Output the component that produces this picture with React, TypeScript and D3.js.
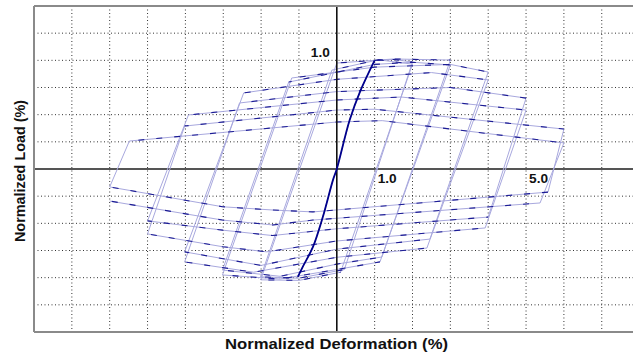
import React from 'react';
import * as d3 from 'd3';

type Pt = [number, number];

// elastic backbone (amplitude 1 cycles, drawn bold)
const backbone: Pt[] = [
  [-1.03, -3.97], [-0.9, -3.6], [-0.63, -2.87], [-0.37, -1.77], [-0.1, -0.4],
  [0, 0], [0.34, 1.8], [0.63, 2.9], [1.0, 4.0],
];

// upper (loading) branches, two cycles per amplitude
const amp2Upper: Pt[][] = [
  [[1.0, 4.0], [1.5, 4.03], [2.0, 3.94]],
  [[-0.13, 3.64], [1.1, 4.02], [2.0, 3.86]],
];
const amp3Upper: Pt[][] = [
  [[0.0, 3.9], [1.5, 4.05], [3.0, 4.01]],
  [[-1.27, 3.2], [1.0, 3.85], [2.0, 3.93], [3.0, 3.83]],
];
const amp4Upper: Pt[][] = [
  [[-1.19, 3.35], [1.0, 3.75], [3.0, 3.85], [4.0, 3.57]],
  [[-2.46, 2.8], [0, 3.3], [2.5, 3.55], [4.0, 3.28]],
];
const amp5Upper: Pt[][] = [
  [[-2.57, 2.43], [0, 2.85], [3.0, 3.0], [5.0, 2.61]],
  [[-3.92, 1.99], [0, 2.54], [1.7, 2.65], [5.0, 2.17]],
];
const amp6Upper: Pt[][] = [
  [[-4.02, 1.58], [0, 2.17], [1.0, 2.2], [6.0, 1.47]],
  [[-5.48, 1.03], [0, 1.73], [1.2, 1.78], [6.0, 0.96]],
];

// lower (reverse loading) branches
const amp2Lower: Pt[][] = [
  [[0.2, -3.7], [-1.0, -4.02], [-2.01, -3.97]],
  [[0.1, -3.8], [-1.0, -4.1], [-2.01, -4.08]],
];
const amp3Lower: Pt[][] = [
  [[1.19, -3.24], [0, -3.5], [-1.5, -3.95], [-3.02, -3.72]],
  [[1.14, -3.42], [0, -3.7], [-1.5, -4.05], [-3.02, -3.9]],
];
const amp4Lower: Pt[][] = [
  [[2.46, -2.58], [0, -2.95], [-2.0, -3.55], [-4.02, -3.05]],
  [[2.38, -2.91], [0, -3.25], [-2.2, -3.8], [-4.02, -3.42]],
];
const amp5Lower: Pt[][] = [
  [[4.0, -1.77], [0, -2.2], [-1.7, -2.45], [-3.02, -2.25], [-5.0, -1.91]],
  [[3.92, -2.17], [0, -2.65], [-1.85, -3.05], [-3.02, -2.86], [-5.0, -2.39]],
];
const amp6Lower: Pt[][] = [
  [[5.58, -0.85], [-0.63, -1.58], [-1.69, -1.51], [-3.02, -1.39], [-6.0, -0.66]],
  [[5.37, -1.25], [-0.63, -1.88], [-1.69, -2.06], [-3.02, -1.88], [-6.0, -1.18]],
];

const xTickLabels = [{ v: 1, label: '1.0' }, { v: 5, label: '5.0' }];
const yTickLabels = [{ v: 4, label: '1.0' }];
const xGrid = d3.range(-7, 8).filter(d => d !== 0);
const yGrid = d3.range(-5, 6).filter(d => d !== 0);

const W = 633, H = 353;

export default function App() {
  const x = d3.scaleLinear().domain([-8, 8]).range([34, 639.6]);
  const y = d3.scaleLinear().domain([-6, 6]).range([332, 6]);
  const line = d3.line<Pt>().x(d => x(d[0])).y(d => y(d[1]));
  const smooth = d3.line<Pt>().x(d => x(d[0])).y(d => y(d[1])).curve(d3.curveCatmullRom);

  const uppers = [amp2Upper, amp3Upper, amp4Upper, amp5Upper, amp6Upper].flat();
  const lowers = [amp2Lower, amp3Lower, amp4Lower, amp5Lower, amp6Lower].flat();
  const history: Pt[] = [...backbone];
  uppers.forEach((u, i) => { history.push(...u, ...lowers[i]); });
  const branches = uppers.concat(lowers);

  const bold = 'bold 12.5px "Liberation Sans", Arial, sans-serif';

  return (
    <svg width={W} height={H} style={{ position: 'fixed', left: 0, top: 0, background: '#fff' }}>
      <rect x={0} y={0} width={W} height={H} fill="#fff" />
      <g stroke="#333" strokeWidth={1} strokeDasharray="1,2.5">
        {xGrid.map(d => <line key={'gx' + d} x1={x(d)} x2={x(d)} y1={y(6)} y2={y(-6)} />)}
        {yGrid.map(d => <line key={'gy' + d} x1={x(-8)} x2={x(8)} y1={y(d)} y2={y(d)} />)}
      </g>
      <line x1={x(-8)} x2={x(8)} y1={y(0)} y2={y(0)} stroke="#555" strokeWidth={2} />

      <path d={line(history) || ''} fill="none" stroke="#a8a8de" strokeWidth={1} />
      {branches.map((b, i) => (
        <path key={'b' + i} d={line(b) || ''} fill="none" stroke="#1c1c94" strokeWidth={1.1}
          strokeDasharray="6 12" strokeDashoffset={i * 7} />
      ))}

      <line x1={x(0)} x2={x(0)} y1={y(6)} y2={y(-6)} stroke="#111" strokeWidth={1.6} />
      <path d={smooth(backbone) || ''} fill="none" stroke="#00008b" strokeWidth={1.8} />

      {xTickLabels.map(t => (
        <text key={'xt' + t.v} x={x(t.v) + 3} y={y(0) + 14} textLength={19} lengthAdjust="spacingAndGlyphs"
          style={{ font: bold }} fill="#111">{t.label}</text>
      ))}
      {yTickLabels.map(t => (
        <text key={'yt' + t.v} x={x(0) - 26} y={y(t.v) - 3} textLength={19} lengthAdjust="spacingAndGlyphs"
          style={{ font: bold }} fill="#111">{t.label}</text>
      ))}

      <line x1={x(-8)} x2={x(-8)} y1={y(6)} y2={y(-6)} stroke="#8a8a8a" strokeWidth={2} />
      <line x1={x(-8)} x2={W} y1={y(6)} y2={y(6)} stroke="#8a8a8a" strokeWidth={2} />
      <line x1={x(-8)} x2={W} y1={y(-6)} y2={y(-6)} stroke="#8a8a8a" strokeWidth={2} />

      <text x={225} y={349} textLength={223} lengthAdjust="spacingAndGlyphs"
        style={{ font: 'bold 14.5px "Liberation Sans", Arial, sans-serif' }} fill="#111">Normalized Deformation (%)</text>
      <text transform="translate(25,242) rotate(-90)" x={0} y={0} textLength={142} lengthAdjust="spacingAndGlyphs"
        style={{ font: 'bold 14.5px "Liberation Sans", Arial, sans-serif' }} fill="#111">Normalized Load (%)</text>
    </svg>
  );
}
